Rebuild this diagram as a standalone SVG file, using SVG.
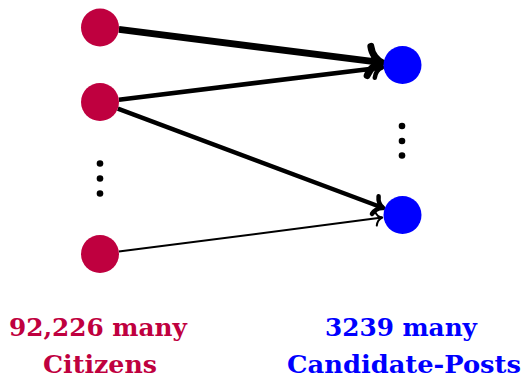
<svg xmlns="http://www.w3.org/2000/svg" width="524" height="379" viewBox="0 0 524 379">
<style>
.cit{fill:#BF003F}
.post{fill:#0000FF}
.dot{fill:#000}
.edge{stroke:#000;fill:none;marker-end:url(#to)}
.edge.thin{marker-end:url(#to-thin)}
.lbl{font-family:"DejaVu Serif","Liberation Serif",serif;font-weight:bold;font-size:24px;text-anchor:middle}
</style>
<defs>
<marker id="to" markerUnits="strokeWidth" viewBox="-3.5 -3.5 4.5 7" refX="0" refY="0" markerWidth="4.5" markerHeight="7" orient="auto" overflow="visible">
<path d="M -1.9,-2.1 C -1.6,-0.9 -0.7,-0.2 0,0 C -0.7,0.2 -1.6,0.9 -1.9,2.1" fill="none" stroke="#000" stroke-width="1" stroke-linecap="round" stroke-linejoin="round"/>
</marker>
<marker id="to-thin" markerUnits="strokeWidth" viewBox="-5 -5 6 10" refX="0" refY="0" markerWidth="6" markerHeight="10" orient="auto" overflow="visible">
<path d="M -3.2,-3.6 C -2.7,-1.5 -1.2,-0.35 0,0 C -1.2,0.35 -2.7,1.5 -3.2,3.6" fill="none" stroke="#000" stroke-width="1" stroke-linecap="round" stroke-linejoin="round"/>
</marker>
</defs>
<g id="connectors">
<line class="edge" x1="118.9" y1="29.4" x2="382.2" y2="62.6" stroke-width="7"/>
<line class="edge" x1="118.9" y1="99.7" x2="382.1" y2="67.4" stroke-width="4.5"/>
<line class="edge" x1="117.8" y1="108.7" x2="383.3" y2="208" stroke-width="4.5"/>
<line class="edge thin" x1="118.8" y1="251.6" x2="382.2" y2="217.6" stroke-width="2"/>
</g>
<g id="citizen1"><circle class="cit" cx="100" cy="27.5" r="19"/></g>
<g id="citizen2"><circle class="cit" cx="100" cy="102" r="19"/></g>
<g id="citizen-dots"><circle class="dot" cx="100" cy="163.5" r="3.3"/><circle class="dot" cx="100" cy="178.5" r="3.3"/><circle class="dot" cx="100" cy="193.5" r="3.3"/></g>
<g id="citizen3"><circle class="cit" cx="100" cy="254" r="19"/></g>
<g id="post1"><circle class="post" cx="402.5" cy="65" r="19"/></g>
<g id="post-dots"><circle class="dot" cx="402" cy="126" r="3.3"/><circle class="dot" cx="402" cy="141" r="3.3"/><circle class="dot" cx="402" cy="155.5" r="3.3"/></g>
<g id="post2"><circle class="post" cx="402.5" cy="215" r="19"/></g>
<g id="label-citizens">
<text class="lbl cit" x="98" y="336" textLength="178" lengthAdjust="spacingAndGlyphs">92,226 many</text>
<text class="lbl cit" x="100" y="373" textLength="114" lengthAdjust="spacingAndGlyphs">Citizens</text>
</g>
<g id="label-posts">
<text class="lbl post" x="401" y="336" textLength="152" lengthAdjust="spacingAndGlyphs">3239 many</text>
<text class="lbl post" x="404" y="373" textLength="234" lengthAdjust="spacingAndGlyphs">Candidate-Posts</text>
</g>
</svg>
